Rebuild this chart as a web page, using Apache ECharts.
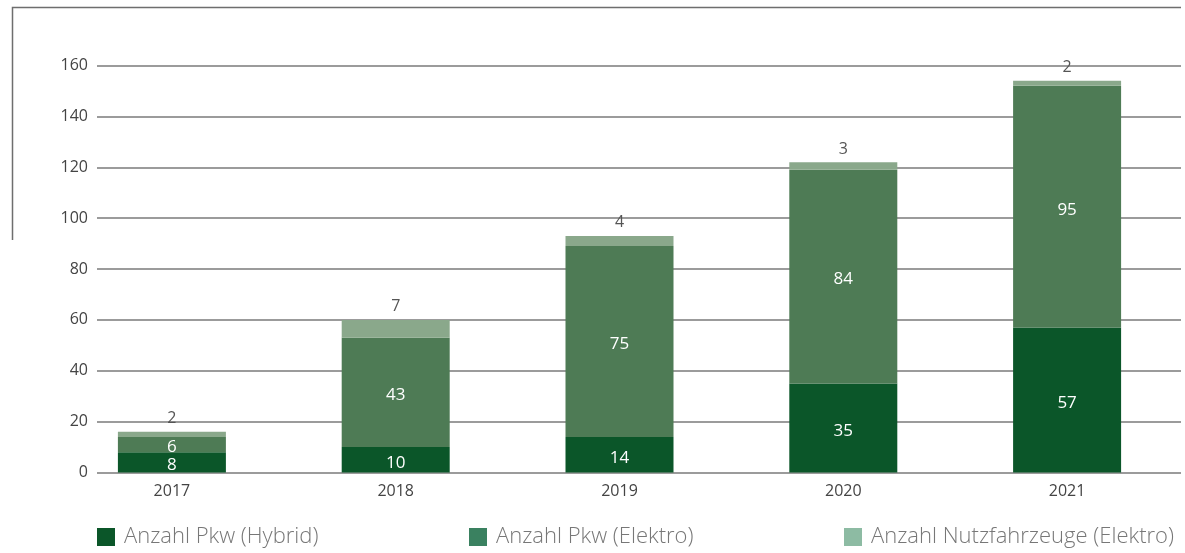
<!DOCTYPE html>
<html>
<head>
<meta charset="utf-8">
<script src="https://cdn.jsdelivr.net/npm/echarts@6/dist/echarts.min.js"></script>
<style>
  html, body { margin: 0; padding: 0; background: #ffffff; }
  #chart { width: 1185px; height: 553px; }
</style>
</head>
<body>
<div id="chart"></div>
<script>
// Fahrzeugbestand nach Antriebsart
const years = ['2017', '2018', '2019', '2020', '2021'];
const pkwHybrid = [8, 10, 14, 35, 57];
const pkwElektro = [6, 43, 75, 84, 95];
const nutzElektro = [2, 7, 4, 3, 2];
const seriesNames = ['Anzahl Pkw (Hybrid)', 'Anzahl Pkw (Elektro)', 'Anzahl Nutzfahrzeuge (Elektro)'];
const yTicks = { min: 0, max: 160, interval: 20 };

const barColors = ['#0b5629', '#4e7b55', '#8aa88b'];
const legendColors = ['#0b5629', '#3a8160', '#8dbba3'];
const FONT = '"Open Sans", "Noto Sans", sans-serif';

const chart = echarts.init(document.getElementById('chart'), null, { renderer: 'canvas' });

const insideLabel = {
  show: true,
  position: 'inside',
  offset: [0, 3],
  color: '#ffffff',
  fontSize: 17,
  fontFamily: FONT
};

function legendFor(i, left) {
  return {
    left: left,
    top: 526,
    padding: 0,
    itemWidth: 18,
    itemHeight: 18,
    icon: 'rect',
    selectedMode: false,
    data: [{ name: seriesNames[i], itemStyle: { color: legendColors[i] } }],
    textStyle: {
      color: '#777777',
      fontSize: 22,
      fontWeight: 300,
      fontFamily: FONT,
      padding: [0, 0, 0, 4]
    }
  };
}

const option = {
  animation: false,
  backgroundColor: '#ffffff',
  grid: [
    { left: 60, right: 6, top: 65.5, bottom: 80.5 },
    { left: 97, right: 4, top: 65.5, bottom: 80.5 }
  ],
  legend: [legendFor(0, 97), legendFor(1, 469), legendFor(2, 844)],
  xAxis: [
    {
      type: 'category',
      gridIndex: 0,
      data: years,
      axisLine: { show: false },
      axisTick: { show: false },
      axisLabel: { color: '#444444', fontSize: 16, fontFamily: FONT, margin: 11 }
    },
    { type: 'value', gridIndex: 1, min: 0, max: 1, show: false }
  ],
  yAxis: [
    { type: 'value', gridIndex: 0, min: yTicks.min, max: yTicks.max, interval: yTicks.interval, show: false },
    {
      type: 'value',
      gridIndex: 1,
      min: yTicks.min,
      max: yTicks.max,
      interval: yTicks.interval,
      axisLine: { show: false },
      axisTick: { show: false },
      axisLabel: { color: '#444444', fontSize: 16, fontFamily: FONT, margin: 9 },
      splitLine: { show: true, lineStyle: { color: '#7a7a7a', width: 1.5 } }
    }
  ],
  graphic: [
    {
      type: 'polyline',
      silent: true,
      shape: { points: [[12.5, 240], [12.5, 7.5], [1181, 7.5]] },
      style: { stroke: '#6e6e6e', lineWidth: 1.5, fill: null }
    }
  ],
  series: [
    {
      name: seriesNames[0],
      type: 'bar',
      stack: 'total',
      xAxisIndex: 0,
      yAxisIndex: 0,
      barWidth: 108,
      data: pkwHybrid,
      itemStyle: { color: barColors[0] },
      label: insideLabel
    },
    {
      name: seriesNames[1],
      type: 'bar',
      stack: 'total',
      xAxisIndex: 0,
      yAxisIndex: 0,
      barWidth: 108,
      data: pkwElektro,
      itemStyle: { color: barColors[1] },
      label: insideLabel
    },
    {
      name: seriesNames[2],
      type: 'bar',
      stack: 'total',
      xAxisIndex: 0,
      yAxisIndex: 0,
      barWidth: 108,
      data: nutzElektro,
      itemStyle: { color: barColors[2] },
      label: {
        show: true,
        position: 'top',
        distance: 5,
        color: '#555555',
        fontSize: 16,
        fontFamily: FONT
      }
    }
  ]
};

chart.setOption(option);
</script>
</body>
</html>
